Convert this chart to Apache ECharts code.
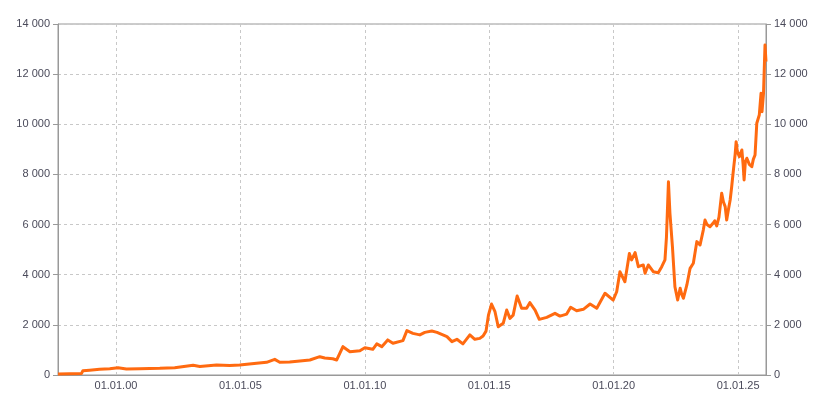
<!DOCTYPE html>
<html>
<head>
<meta charset="utf-8">
<script src="https://cdn.jsdelivr.net/npm/echarts@6/dist/echarts.min.js"></script>
<style>html,body{margin:0;padding:0;background:#fff}#c{width:825px;height:400px}</style>
</head>
<body>
<div id="c"></div>
<script>
// decimal years
const years = [1997.67,1998.14,1998.61,1998.67,1998.94,1999.34,1999.75,2000.08,2000.42,2000.95,2001.76,2002.36,2003.10,2003.37,2004.04,2004.57,2004.97,2005.65,2006.05,2006.38,2006.58,2006.98,2007.39,2007.79,2008.19,2008.39,2008.71,2008.87,2009.12,2009.40,2009.80,2010.00,2010.32,2010.48,2010.68,2010.92,2011.13,2011.53,2011.69,2011.93,2012.21,2012.41,2012.69,2012.90,2013.30,2013.50,2013.70,2013.94,2014.22,2014.42,2014.62,2014.75,2014.87,2014.97,2015.09,2015.23,2015.36,2015.56,2015.70,2015.83,2015.96,2016.12,2016.30,2016.50,2016.63,2016.84,2017.01,2017.31,2017.64,2017.84,2018.11,2018.27,2018.51,2018.78,2019.05,2019.32,2019.65,2019.98,2020.12,2020.25,2020.45,2020.63,2020.72,2020.86,2020.99,2021.19,2021.26,2021.39,2021.59,2021.79,2021.93,2022.06,2022.12,2022.20,2022.26,2022.36,2022.46,2022.57,2022.67,2022.74,2022.80,2022.94,2023.07,2023.20,2023.34,2023.47,2023.60,2023.67,2023.75,2023.87,2023.99,2024.06,2024.14,2024.23,2024.34,2024.41,2024.48,2024.54,2024.61,2024.68,2024.74,2024.81,2024.88,2024.92,2024.97,2025.05,2025.15,2025.20,2025.24,2025.29,2025.35,2025.45,2025.55,2025.61,2025.68,2025.75,2025.85,2025.92,2025.96,2026.02,2026.08,2026.12];
const values = [40,45,55,170,190,225,250,290,240,250,265,290,390,340,400,380,400,465,505,625,510,520,560,600,730,680,650,600,1130,930,970,1090,1025,1240,1130,1400,1265,1370,1770,1660,1600,1700,1755,1700,1530,1330,1425,1240,1600,1425,1460,1555,1750,2400,2830,2525,1925,2060,2590,2260,2390,3150,2660,2660,2885,2590,2220,2300,2460,2350,2430,2700,2565,2620,2830,2660,3260,2990,3320,4120,3720,4850,4590,4880,4320,4390,4060,4390,4120,4080,4320,4590,5500,7710,6450,5120,3520,2990,3460,3200,3060,3590,4255,4455,5320,5185,5780,6180,6000,5915,6050,6150,5950,6300,7250,6900,6715,6180,6600,6980,7500,8175,8800,9305,8900,8710,8975,8400,7780,8500,8645,8400,8310,8600,8775,10040,10370,11235,10500,11235,13160,12500];
const xTicks = [2000,2005,2010,2015,2020,2025];

const data = years.map((y, i) => [y, values[i]]);
const fmtY = v => String(v).replace(/\B(?=(\d{3})+(?!\d))/g, ' ');
const fmtX = v => '01.01.' + String(Math.round(v) % 100).padStart(2, '0');
const txt = {color: '#4a4a5a', fontFamily: 'Liberation Sans', fontSize: 11};
const axisLine = {show: true, lineStyle: {color: '#999999', width: 1}};

const chart = echarts.init(document.getElementById('c'), null, {renderer: 'canvas'});
chart.setOption({
  animation: false,
  grid: {left: 58, right: 59, top: 24, bottom: 25, show: true, borderColor: '#999999', borderWidth: 1, containLabel: false},
  xAxis: {
    type: 'value', min: years[0], max: years[years.length - 1],
    axisLine: axisLine,
    axisTick: {show: false, customValues: xTicks},
    axisLabel: Object.assign({customValues: xTicks, formatter: fmtX, margin: 5}, txt),
    splitLine: {show: true, customValues: xTicks, lineStyle: {color: '#c8c8c8', type: [3, 3], width: 1}}
  },
  yAxis: [
    {type: 'value', position: 'left', min: 0, max: 14000, interval: 2000,
     axisLine: axisLine, axisTick: {show: true, length: 5, lineStyle: {color: '#999999'}},
     axisLabel: Object.assign({formatter: fmtY, margin: 8}, txt),
     splitLine: {show: true, lineStyle: {color: '#c8c8c8', type: [3, 3], width: 1}}},
    {type: 'value', position: 'right', min: 0, max: 14000, interval: 2000,
     axisLine: axisLine, axisTick: {show: true, length: 5, lineStyle: {color: '#999999'}},
     axisLabel: Object.assign({formatter: fmtY, margin: 8}, txt),
     splitLine: {show: false}}
  ],
  series: [{
    type: 'line', data: data, showSymbol: false, symbol: 'none',
    lineStyle: {color: '#ff6a10', width: 3, join: 'round'}, yAxisIndex: 0, z: 3
  }]
});
</script>
</body>
</html>
